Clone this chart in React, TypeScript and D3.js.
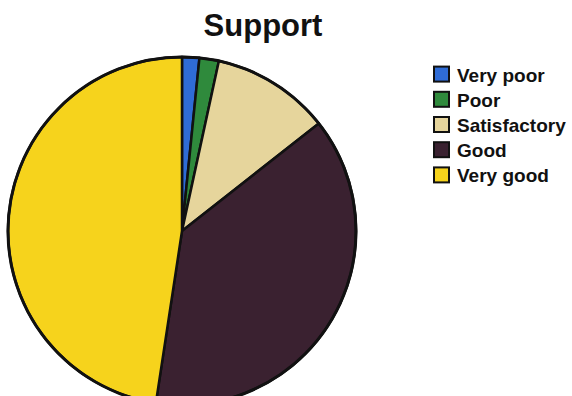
import React from "react";
import * as d3 from "d3";

const categories = ["Very poor", "Poor", "Satisfactory", "Good", "Very good"];
const values = [1.6, 1.8, 11.0, 38.0, 47.6];
const colors = ["#2f6cd6", "#2f8a3c", "#e6d59c", "#3a2130", "#f6d31c"];
const title = "Support";

export default function App() {
  const W = 572, H = 396;
  const cx = 182, cy = 231, r = 174;
  const data = categories.map((c, i) => ({ c, v: values[i], col: colors[i] }));
  const pie = d3.pie<any>().sort(null).value((d) => d.v).startAngle(0).endAngle(2 * Math.PI);
  const arc = d3.arc<any>().innerRadius(0).outerRadius(r);
  const arcs = pie(data);
  const legendY = d3.scaleBand().domain(categories).range([62, 188]);
  return (
    <svg width={W} height={H} style={{ position: "absolute", left: 0, top: 0, background: "#fff" }}
      fontFamily="'Liberation Sans', Arial, sans-serif">
      <rect width={W} height={H} fill="#fff" />
      <text x={263} y={36} textAnchor="middle" fontSize={31} fontWeight="bold" fill="#111">{title}</text>
      <g transform={`translate(${cx},${cy})`}>
        {arcs.map((a, i) => (
          <path key={i} d={arc(a) as string} fill={a.data.col} stroke="#111" strokeWidth={2.5} strokeLinejoin="round" />
        ))}
        <circle r={r} fill="none" stroke="#111" strokeWidth={3} />
      </g>
      <g>
        {data.map((d, i) => {
          const y = (legendY(d.c) as number) + legendY.bandwidth() / 2;
          return (
            <g key={i}>
              <rect x={434} y={y - 8} width={15} height={15} fill={d.col} stroke="#111" strokeWidth={2} />
              <text x={457} y={y + 7} fontSize={19} fontWeight="bold" fill="#111">{d.c}</text>
            </g>
          );
        })}
      </g>
    </svg>
  );
}
